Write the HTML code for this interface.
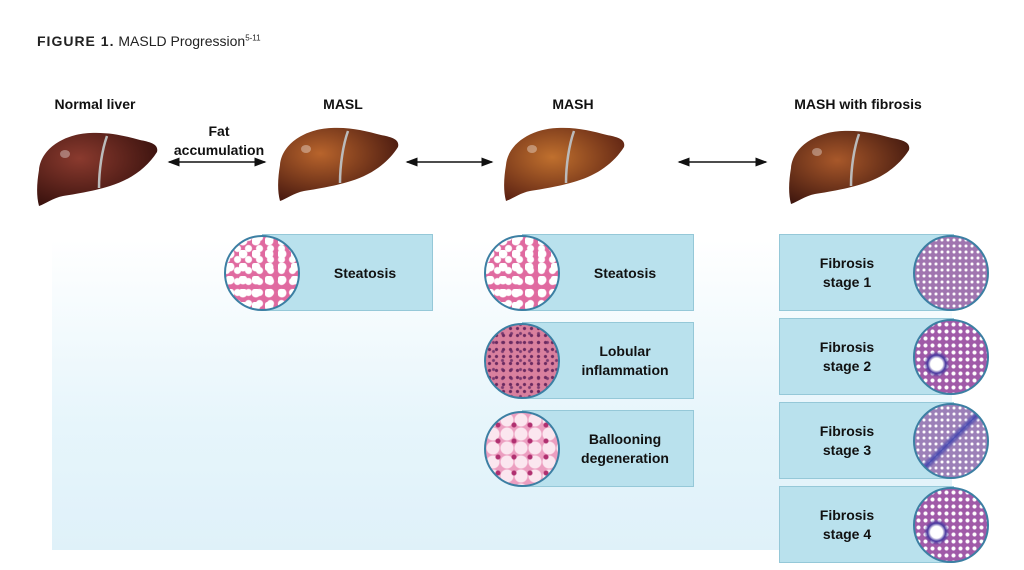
<!DOCTYPE html>
<html><head><meta charset="utf-8"><style>
body{margin:0;width:1024px;height:570px;background:#fff;position:relative;overflow:hidden;font-family:"Liberation Sans",sans-serif;}
.t{position:absolute;font-weight:bold;font-size:14px;color:#111;text-align:center;}
.bg{position:absolute;left:52px;top:240px;width:900px;height:310px;background:linear-gradient(#fff,#e6f5fb 60%,#dff1f9);}
.box{position:absolute;background:#b9e1ed;border:1.5px solid #95c8d8;box-sizing:border-box;}
.lbl{position:absolute;font-weight:bold;font-size:14px;line-height:19px;text-align:center;color:#111;}
.c{position:absolute;width:76px;height:76px;border-radius:50%;border:2px solid #3c7fa3;box-sizing:border-box;}
.st{background:radial-gradient(circle at 30% 30%,#fff 4px,transparent 5px) 0 0/13px 13px,radial-gradient(circle,#fff 3px,transparent 4px) 6px 6px/11px 11px,#e06aa0;}
.inf{background:radial-gradient(circle,#6a2a60 1.2px,transparent 2px) 0 0/7px 7px,radial-gradient(circle,#7a3a70 1px,transparent 2px) 3px 4px/9px 9px,#d9809e;}
.bal{background:radial-gradient(circle,#b03070 2px,transparent 3px) 4px 4px/16px 16px,radial-gradient(circle,#fbe6ef 6px,transparent 7px) 0 0/14px 14px,#ec9ec0;}
.fib{background:radial-gradient(circle,#fff 1px,transparent 2px) 0 0/6px 6px,#a075b0;}
.f2{background:radial-gradient(circle at 30% 60%,#fff 6px,#4a3aa0 9px,transparent 13px),radial-gradient(circle,#fff 1.5px,transparent 2.5px) 0 0/7px 7px,#a05aa8;}
.f3{background:linear-gradient(135deg,transparent 45%,#4a4ab0 50%,transparent 55%),radial-gradient(circle,#fff 1px,transparent 2px) 0 0/6px 6px,#9c80b8;}
</style></head><body>
<div style="position:absolute;left:37px;top:33px;font-size:14px;color:#222"><b style="letter-spacing:1px">FIGURE 1.</b> MASLD Progression<sup style="font-size:8px">5-11</sup></div>
<div class="t" style="left:30px;top:96px;width:130px">Normal liver</div>
<div class="t" style="left:290px;top:96px;width:106px">MASL</div>
<div class="t" style="left:520px;top:96px;width:106px">MASH</div>
<div class="t" style="left:778px;top:96px;width:160px">MASH with fibrosis</div>
<div class="t" style="left:170px;top:122px;width:98px;line-height:19px">Fat<br>accumulation</div>
<svg width="1024" height="570" style="position:absolute;left:0;top:0">
<defs>
<radialGradient id="g1" cx="35%" cy="35%" r="70%"><stop offset="0" stop-color="#8a3a2e"/><stop offset="1" stop-color="#3a120e"/></radialGradient>
<radialGradient id="g2" cx="35%" cy="35%" r="70%"><stop offset="0" stop-color="#b8642c"/><stop offset="1" stop-color="#4a1a10"/></radialGradient>
<radialGradient id="g3" cx="40%" cy="40%" r="70%"><stop offset="0" stop-color="#c0702e"/><stop offset="1" stop-color="#5a2012"/></radialGradient>
<radialGradient id="g4" cx="40%" cy="40%" r="70%"><stop offset="0" stop-color="#a8582a"/><stop offset="1" stop-color="#3e160e"/></radialGradient>
<g id="lv"><path d="M4,40 C6,18 30,4 55,3 C75,2 90,6 105,10 C115,12 124,14 122,22 C112,38 95,50 75,56 C55,62 40,64 28,66 C18,68 10,74 4,76 C1,65 2,52 4,40Z"/><path d="M72,6 C67,20 64,40 64,58" stroke="#bbb" stroke-width="2.5" fill="none"/><ellipse cx="30" cy="24" rx="5" ry="4" fill="#fff" opacity="0.35"/></g>
<marker id="a" markerWidth="8" markerHeight="8" refX="7" refY="4" orient="auto-start-reverse"><path d="M0,1 L8,4 L0,7Z" fill="#111"/></marker>
</defs>
<use href="#lv" x="35" y="130" fill="url(#g1)"/>
<use href="#lv" x="276" y="125" fill="url(#g2)"/>
<use href="#lv" x="502" y="125" fill="url(#g3)"/>
<use href="#lv" x="787" y="128" fill="url(#g4)"/>
<g stroke="#111" stroke-width="1.5" marker-start="url(#a)" marker-end="url(#a)">
<line x1="169" y1="162" x2="265" y2="162"/><line x1="407" y1="162" x2="492" y2="162"/><line x1="679" y1="162" x2="766" y2="162"/></g>
</svg>
<div class="bg"></div>
<div class="box" style="left:262px;top:234px;width:171px;height:77px"></div><div class="lbl" style="left:300px;top:264px;width:130px">Steatosis</div><div class="c st" style="left:224px;top:235px"></div>
<div class="box" style="left:522px;top:234px;width:172px;height:77px"></div><div class="lbl" style="left:560px;top:264px;width:130px">Steatosis</div><div class="c st" style="left:484px;top:235px"></div>
<div class="box" style="left:522px;top:322px;width:172px;height:77px"></div><div class="lbl" style="left:560px;top:342px;width:130px">Lobular<br>inflammation</div><div class="c inf" style="left:484px;top:323px"></div>
<div class="box" style="left:522px;top:410px;width:172px;height:77px"></div><div class="lbl" style="left:560px;top:430px;width:130px">Ballooning<br>degeneration</div><div class="c bal" style="left:484px;top:411px"></div>
<div class="box" style="left:779px;top:234px;width:175px;height:77px"></div><div class="lbl" style="left:782px;top:254px;width:130px">Fibrosis<br>stage 1</div><div class="c fib" style="left:913px;top:235px"></div>
<div class="box" style="left:779px;top:318px;width:175px;height:77px"></div><div class="lbl" style="left:782px;top:338px;width:130px">Fibrosis<br>stage 2</div><div class="c f2" style="left:913px;top:319px"></div>
<div class="box" style="left:779px;top:402px;width:175px;height:77px"></div><div class="lbl" style="left:782px;top:422px;width:130px">Fibrosis<br>stage 3</div><div class="c f3" style="left:913px;top:403px"></div>
<div class="box" style="left:779px;top:486px;width:175px;height:77px"></div><div class="lbl" style="left:782px;top:506px;width:130px">Fibrosis<br>stage 4</div><div class="c f2" style="left:913px;top:487px"></div>
</body></html>
